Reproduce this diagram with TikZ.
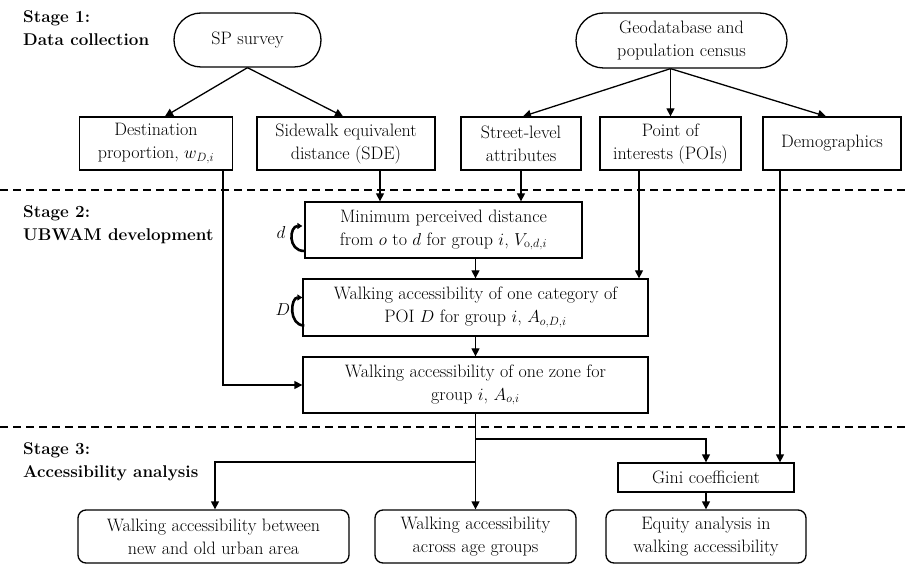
\documentclass[tikz,border=0pt]{standalone}
\usepackage{tikz}
\usetikzlibrary{arrows.meta,shapes.misc,calc,positioning}
\tikzset{
  every node/.style={font=\fontsize{18}{23}\selectfont},
  box/.style={draw, line width=1.3pt, rectangle, align=center, inner sep=1pt},
  endbox/.style={box, rounded corners=8pt},
  srcbox/.style={box, rounded rectangle},
  arr/.style={line width=1.3pt, -{Triangle[length=8pt,width=8pt]}},
  looparr/.style={line width=2.6pt, -{Triangle[length=5pt,width=6pt]}},
  stagelab/.style={anchor=north west, align=left, inner sep=0pt, font=\fontsize{17}{23.5}\selectfont\bfseries},
  sep/.style={line width=1.2pt, dash pattern=on 8pt off 5pt}
}
\begin{document}
\begin{tikzpicture}[x=1pt,y=-1pt]
\useasboundingbox (0,0) rectangle (906,564);

\node[stagelab] (st1) at (23,10) {Stage 1:\\Data collection};
\node[stagelab] (st2) at (23,205) {Stage 2:\\UBWAM development};
\node[stagelab] (st3) at (23,442) {Stage 3:\\Accessibility analysis};

\draw[sep] (0,190) -- (906,190);
\draw[sep] (0,427) -- (906,427);

% stage 1
\node[srcbox, minimum width=149pt, minimum height=54pt] (sp) at (247.5,40) {SP survey};
\node[srcbox, minimum width=213pt, minimum height=55pt] (geo) at (681.5,40.5) {Geodatabase and\\population census};

\node[box, minimum width=153pt, minimum height=53pt] (dest) at (156,143.5) {Destination\\proportion, $w_{D,i}$};
\node[box, minimum width=178pt, minimum height=53pt] (sde) at (346,143.5) {Sidewalk equivalent\\distance (SDE)};
\node[box, minimum width=120pt, minimum height=53pt] (street) at (521,143.5) {Street-level\\attributes};
\node[box, minimum width=141pt, minimum height=53pt] (poi) at (670.5,143.5) {Point of\\interests (POIs)};
\node[box, minimum width=138pt, minimum height=53pt] (demo) at (832,143.5) {Demographics};

\draw[arr] (sp.south) -- ($(dest.north)+(9,0)$);
\draw[arr] (sp.south) -- ($(sde.north)+(-3,0)$);
\draw[arr] (geo.south -| poi) -- ($(street.north)+(2,0)$);
\draw[arr] (geo.south -| poi) -- (poi.north);
\draw[arr] (geo.south -| poi) -- ($(demo.north)+(-6,0)$);

% stage 2
\node[box, minimum width=277pt, minimum height=56pt] (vmin) at (443.5,230) {Minimum perceived distance\\from $o$ to $d$ for group $i$, $V_{\mathrm{o},d,i}$};
\node[box, minimum width=345pt, minimum height=57pt] (aod) at (475.5,307.5) {Walking accessibility of one category of\\POI $D$ for group $i$, $A_{o,D,i}$};
\node[box, minimum width=345pt, minimum height=56pt] (aoi) at (475.5,385) {Walking accessibility of one zone for\\group $i$, $A_{o,i}$};

\coordinate (sdeout) at ($(sde.south)+(34,0)$);
\coordinate (poiout) at ($(poi.south)+(-31.5,0)$);
\coordinate (destout) at ($(dest.south)+(67,0)$);
\coordinate (demoout) at ($(demo.south)+(-52,0)$);

\draw[arr] (sdeout) -- (sdeout |- vmin.north);
\draw[arr] (street.south) -- (street.south |- vmin.north);
\draw[arr] (aod.north |- vmin.south) -- (aod.north);
\draw[arr] (poiout) -- (poiout |- aod.north);
\draw[arr] (aod.south) -- (aoi.north);
\draw[arr] (destout) |- (aoi.west);

\node (dlab) at (281,233) {$d$};
\draw[looparr] ($(vmin.west)+(0,21)$) .. controls +(-17,0) and +(-13,0) .. ($(vmin.west)+(-2,-4)$);
\node (Dlab) at (283,310) {$D$};
\draw[looparr] ($(aod.west)+(2,18)$) .. controls +(-16,0) and +(-12,0) .. ($(aod.west)+(0,-10)$);

% stage 3
\node[box, minimum width=176pt, minimum height=29pt] (gini) at (706,477.5) {Gini coefficient};
\node[endbox, minimum width=271pt, minimum height=53pt] (bnew) at (213.5,536.5) {Walking accessibility between\\new and old urban area};
\node[endbox, minimum width=201pt, minimum height=53pt] (bage) at (475.5,536.5) {Walking accessibility\\across age groups};
\node[endbox, minimum width=200pt, minimum height=53pt] (beq) at (706,536.5) {Equity analysis in\\walking accessibility};

\coordinate (br1) at (475.5,439);
\coordinate (br2) at (475.5,462);
\draw[arr] (aoi.south) -- (bage.north);
\draw[arr] (br1) -| (gini.north);
\draw[arr] (br2) -| ($(bnew.north)+(1.5,0)$);
\draw[arr] (demoout) -- (demoout |- gini.north);
\draw[arr] (gini.south) -- (beq.north);

\end{tikzpicture}
\end{document}
